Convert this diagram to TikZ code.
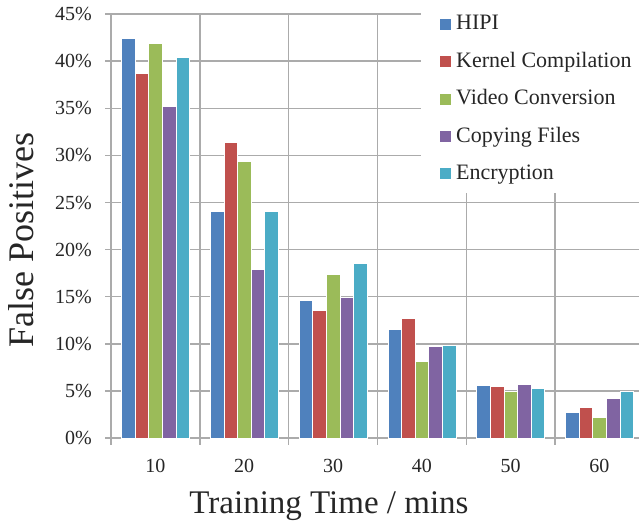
\documentclass[tikz,border=0pt]{standalone}
\usepackage{fontspec}
\setmainfont{Liberation Serif}
\definecolor{cA}{HTML}{4F81BD}
\definecolor{cB}{HTML}{C0504D}
\definecolor{cC}{HTML}{9BBB59}
\definecolor{cD}{HTML}{8064A2}
\definecolor{cE}{HTML}{4BACC6}
\definecolor{gridgray}{HTML}{ABABAB}
\definecolor{txt}{HTML}{262626}
\begin{document}
\begin{tikzpicture}[x=1pt,y=-1pt,
  gridline/.style={draw=gridgray, line width=1.4pt},
  barbox/.style={draw=white, line width=0.4pt},
  ticklab/.style={text=txt, font=\fontsize{20}{24}\selectfont, inner sep=0pt},
  axtitle/.style={text=txt, font=\fontsize{33}{38}\selectfont, inner sep=0pt},
  legtext/.style={text=txt, font=\fontsize{22}{26}\selectfont, inner sep=0pt, anchor=base west},
  legkey/.style={inner sep=0pt, minimum size=11pt, anchor=south west}]
\useasboundingbox (0,0) rectangle (639,521);
\fill[white] (0,0) rectangle (639,521);
% horizontal grid and y ticks
\foreach \v in {0,5,...,45} {
  \draw[gridline] (105,{438-9.42*\v}) -- (639,{438-9.42*\v});
  \node[ticklab, anchor=east] (yl\v) at (92,{438-9.42*\v}) {\v\%};
}
% vertical grid and x ticks
\foreach \k in {0,...,5} {
  \draw[gridline] ({111+88.8*\k},14) -- ({111+88.8*\k},445);
}
\foreach \k/\lab in {0/10,1/20,2/30,3/40,4/50,5/60} {
  \node[ticklab, anchor=base] (xl\lab) at ({155.4+88.8*\k},472) {\lab};
}
% bars
\foreach \c/\a/\b/\d/\e/\f in {0/42.4/38.7/41.9/35.2/40.4,
                               1/24.1/31.4/29.4/17.9/24.1,
                               2/14.6/13.6/17.4/15.0/18.6,
                               3/11.6/12.7/8.2/9.7/9.8,
                               4/5.6/5.5/5.0/5.7/5.3,
                               5/2.7/3.3/2.2/4.2/5.0} {
  \foreach \v/\col [count=\i from 0] in {\a/cA,\b/cB,\d/cC,\e/cD,\f/cE} {
    \filldraw[barbox, fill=\col] ({111+88.8*\c+10.4+13.6*\i},438) rectangle ({111+88.8*\c+10.4+13.6*(\i+1)},{438-9.42*\v});
  }
}
% legend area
\fill[white] (421,0) rectangle (639,193);
\foreach \n/\col/\lab [count=\r from 0] in {hipi/cA/HIPI, kern/cB/Kernel Compilation, vid/cC/Video Conversion, copy/cD/Copying Files, enc/cE/Encryption} {
  \node[legkey, fill=\col] (k\n) at (440,{30+37.4*\r}) {};
  \node[legtext] (t\n) at (456,{30+37.4*\r}) {\lab};
}
% axis titles
\node[axtitle, font=\fontsize{36}{40}\selectfont, anchor=base, rotate=90] (ytitle) at (33,240) {False Positives};
\node[axtitle, anchor=base] (xtitle) at (329,513) {Training Time / mins};
\end{tikzpicture}
\end{document}
